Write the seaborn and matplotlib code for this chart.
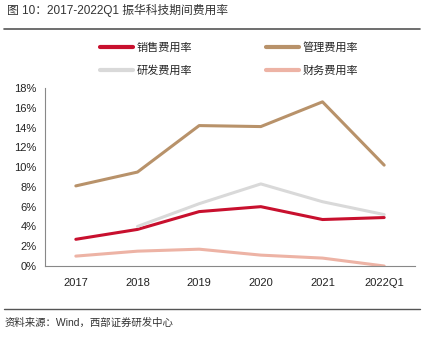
import matplotlib
matplotlib.use("Agg")
import matplotlib.pyplot as plt
import seaborn as sns
import numpy as np
import pandas as pd
from matplotlib.lines import Line2D

categories = ["2017", "2018", "2019", "2020", "2021", "2022Q1"]
sales = [2.7, 3.7, 5.5, 6.0, 4.7, 4.9]
admin = [8.1, 9.5, 14.2, 14.1, 16.6, 10.2]
rnd = [np.nan, 4.0, 6.3, 8.3, 6.5, 5.2]
finance = [1.0, 1.5, 1.7, 1.1, 0.8, 0.0]

names = ["销售费用率", "管理费用率", "研发费用率", "财务费用率"]
colors = ["#C8102E", "#B8926A", "#D9D9D9", "#EDB3A5"]
series = [sales, admin, rnd, finance]

sns.set_style("white")
plt.rcParams['font.family'] = ['Liberation Sans', 'Noto Sans CJK SC', 'DejaVu Sans']

fig = plt.figure(figsize=(4.3, 3.46), dpi=100)
ax = fig.add_axes([45/430, 80/346, 370/430, 178/346])

x = np.arange(len(categories))
handles = {}
for name, vals, col in zip(names, series, colors):
    sns.lineplot(x=x, y=vals, ax=ax, color=col, linewidth=2.2, legend=False)
    handles[name] = Line2D([0], [0], color=col, linewidth=3)

ax.set_xlim(-0.5, 5.5)
ax.set_ylim(0, 18)
ax.set_xticks(np.arange(-0.5, 6.0, 1.0))
ax.set_xticklabels([])
ax.set_xticks(x, minor=True)
ax.set_xticklabels(categories, minor=True)
ax.tick_params(axis='x', which='major', direction='in', length=3, color='#888888', width=0.8)
ax.tick_params(axis='x', which='minor', length=0, pad=9, labelsize=8, labelcolor='#222222')
ax.set_yticks(np.arange(0, 19, 2))
ax.set_yticklabels([f"{v}%" for v in range(0, 19, 2)])
ax.tick_params(axis='y', direction='in', length=3, color='#888888', width=0.8, labelsize=8, labelcolor='#222222', pad=6)
for s in ['top', 'right']:
    ax.spines[s].set_visible(False)
for s in ['left', 'bottom']:
    ax.spines[s].set_color('#888888')
    ax.spines[s].set_linewidth(0.8)
ax.set_xlabel("")
ax.set_ylabel("")

order = ["销售费用率", "研发费用率", "管理费用率", "财务费用率"]
fig.legend([handles[n] for n in order], order, loc='upper left',
           bbox_to_anchor=(100/430, 1-42/346), ncol=2, frameon=False,
           handlelength=3.0, handletextpad=0.3, columnspacing=6.6,
           labelspacing=1.15, borderpad=0, borderaxespad=0,
           prop={'family': ['Noto Sans CJK SC'], 'size': 8})

fig.text(7/430, 1-10/346, "图 10：2017-2022Q1 振华科技期间费用率", ha='left', va='center',
         fontsize=8.5, color='#333333', family=['Liberation Sans', 'Noto Sans CJK SC'])
fig.add_artist(Line2D([4/430, 420/430], [1-29/346, 1-29/346], color='#555555', linewidth=1.2))
fig.add_artist(Line2D([4/430, 420/430], [1-309/346, 1-309/346], color='#555555', linewidth=1.0))
fig.text(5/430, 1-323/346, "资料来源：Wind，西部证券研发中心", ha='left', va='center',
         fontsize=7.5, color='#333333', family=['Liberation Sans', 'Noto Sans CJK SC'])

fig.savefig("out.png", dpi=100)
